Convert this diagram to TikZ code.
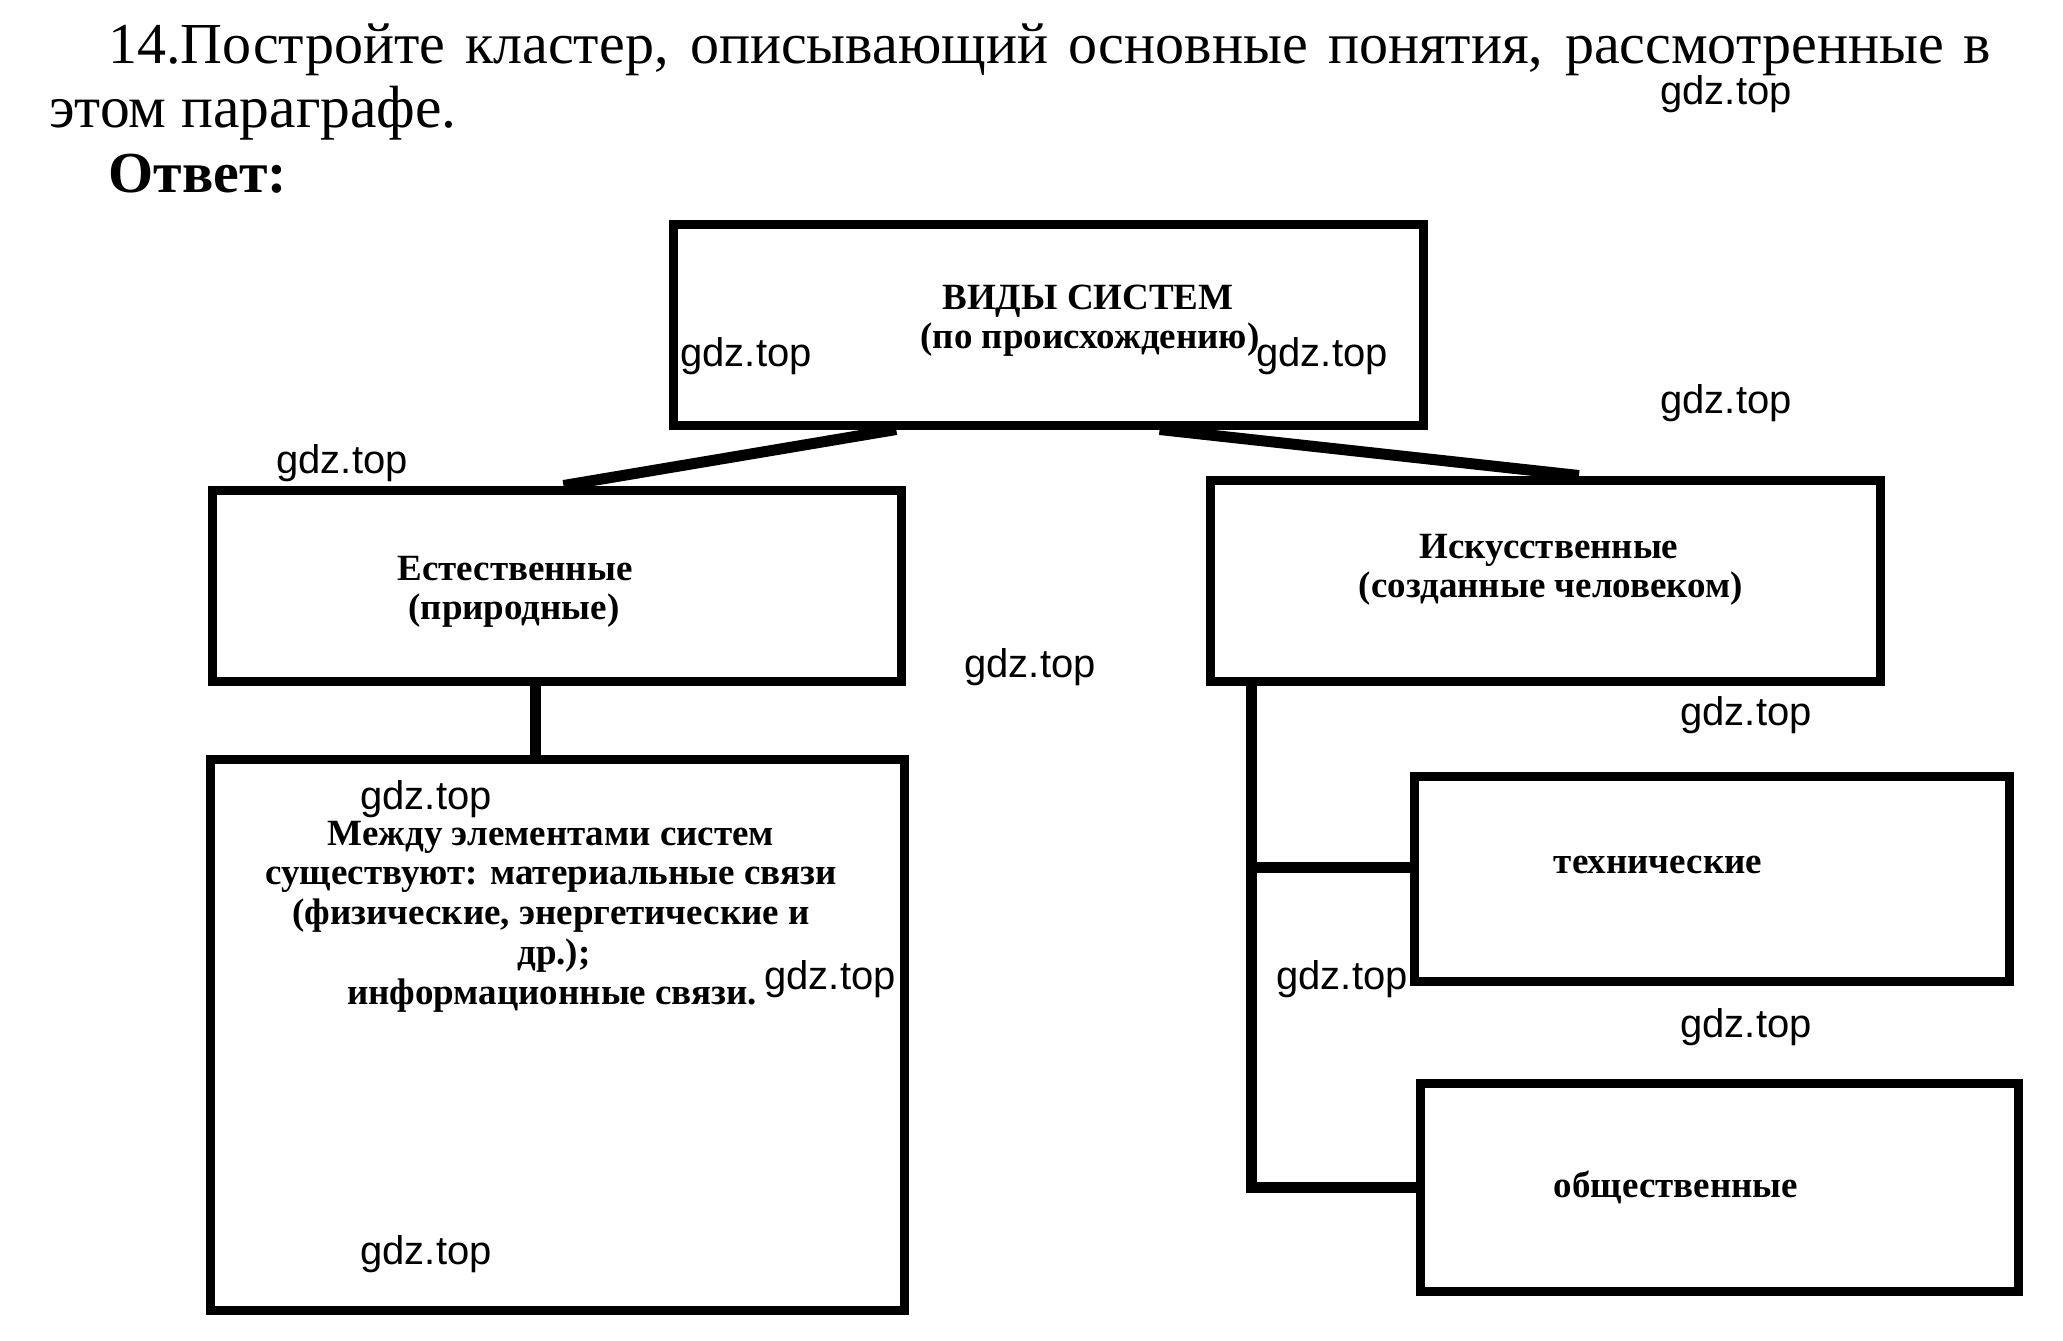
\documentclass[tikz,border=0pt]{standalone}
\usepackage{fontspec}
\setmainfont{Liberation Serif}
\newfontfamily\wmfont{Liberation Sans}
\usetikzlibrary{calc}
\begin{document}
\begin{tikzpicture}[x=0.5pt,y=-0.5pt,
  box/.style={draw, line width=4.5pt, inner sep=0pt},
  conn/.style={line width=5.5pt},
  lbl/.style={font=\bfseries\fontsize{18.5}{20}\selectfont, anchor=base, inner sep=0pt},
  wm/.style={font=\wmfont\fontsize{20}{22}\selectfont, anchor=west, inner sep=0pt},
  ttl/.style={font=\fontsize{29}{32}\selectfont, anchor=base west, inner sep=0pt}]
\path[fill=white, use as bounding box] (0,0) rectangle (2063,1340);

% title
\node[ttl] (t1) at (108,63) {\makebox[941.5pt][s]{14.Постройте кластер, описывающий основные понятия, рассмотренные в}};
\node[ttl, font=\fontsize{29.8}{32}\selectfont] (t2) at (49,127) {этом параграфе.};
\node[ttl, font=\bfseries\fontsize{29}{32}\selectfont] (t3) at (108,192) {Ответ:};

% boxes
\node[box, minimum width=375pt, minimum height=100.5pt] (b1) at (1048,324.5) {};
\node[box, minimum width=344.5pt, minimum height=95.5pt] (b2) at (556.5,585.5) {};
\node[box, minimum width=335pt, minimum height=100.5pt] (b3) at (1545,580.5) {};
\node[box, minimum width=347pt, minimum height=275.5pt] (b4) at (557,1034.5) {};
\node[box, minimum width=297.5pt, minimum height=102.5pt] (b5) at (1711.5,878.5) {};
\node[box, minimum width=299pt, minimum height=104pt] (b6) at (1719,1187) {};

% box texts
\node[lbl] (b1a) at (1088,309) {ВИДЫ СИСТЕМ};
\node[lbl] (b1b) at (1090,348) {(по происхождению)};
\node[lbl] (b2a) at (515,580) {Естественные};
\node[lbl] (b2b) at (514,619) {(природные)};
\node[lbl] (b3a) at (1549,558) {Искусственные};
\node[lbl] (b3b) at (1551,597) {(созданные человеком)};
\node[lbl] (b4a) at (551,845) {Между элементами систем};
\node[lbl] (b4b) at (551,884) {существуют: материальные связи};
\node[lbl] (b4c) at (551,924) {(физические, энергетические и};
\node[lbl] (b4d) at (554,964) {др.);};
\node[lbl] (b4e) at (552,1004) {информационные связи.};
\node[lbl] (b5a) at (1658,873) {технические};
\node[lbl] (b6a) at (1676,1197) {общественные};

% connectors
\coordinate (c1) at ($(b1.south west)!0.30!(b1.south east)$);
\coordinate (c2) at ($(b2.north west)!0.51!(b2.north east)$);
\coordinate (c3) at ($(b1.south west)!0.647!(b1.south east)$);
\coordinate (c4) at ($(b3.north west)!0.55!(b3.north east)$);
\coordinate (c5) at ($(b2.south west)!0.47!(b2.south east)$);
\coordinate (c6) at ($(b3.south west)!0.067!(b3.south east)$);
\coordinate (c7) at ($(b5.north west)!0.45!(b5.south west)$);
\draw[conn] (c1) -- (c2);
\draw[conn] (c3) -- (c4);
\draw[conn] (c5) -- (c5 |- b4.north);
\draw[conn] (c6) |- (b6.west);
\draw[conn] (c6 |- c7) -- (c7);

% watermarks
\node[wm] (w1) at (1660,94) {gdz.top};
\node[wm] (w2) at (680,356) {gdz.top};
\node[wm] (w3) at (1256,356) {gdz.top};
\node[wm] (w4) at (1660,403) {gdz.top};
\node[wm] (w5) at (276,463) {gdz.top};
\node[wm] (w6) at (964,667) {gdz.top};
\node[wm] (w7) at (1680,715) {gdz.top};
\node[wm] (w8) at (360,799) {gdz.top};
\node[wm] (w9) at (764,979) {gdz.top};
\node[wm] (w10) at (1276,979) {gdz.top};
\node[wm] (w11) at (1680,1027) {gdz.top};
\node[wm] (w12) at (360,1254) {gdz.top};
\end{tikzpicture}
\end{document}
